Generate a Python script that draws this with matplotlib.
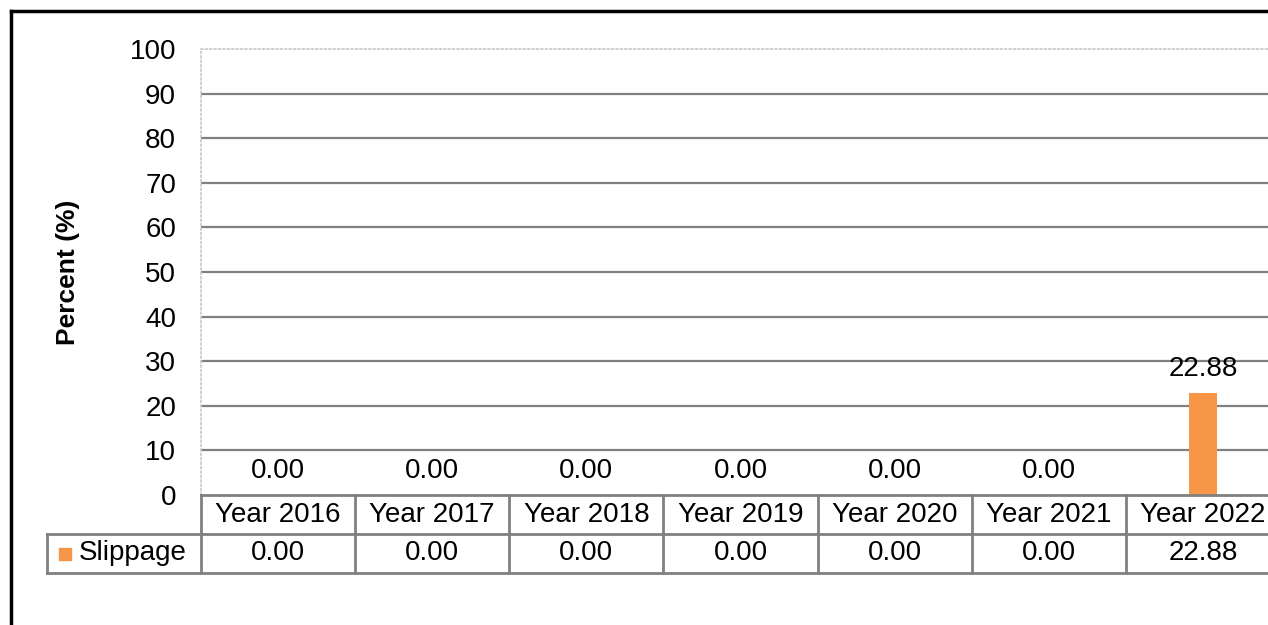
import matplotlib
matplotlib.use("Agg")
import matplotlib.pyplot as plt
from matplotlib.lines import Line2D
import numpy as np

# data
years = ["Year 2016", "Year 2017", "Year 2018", "Year 2019", "Year 2020", "Year 2021", "Year 2022"]
slippage = [0.00, 0.00, 0.00, 0.00, 0.00, 0.00, 22.88]
series_name = "Slippage"

orange = "#F79646"
grey = "#808080"
fs = 20
plt.rcParams["font.family"] = ["Liberation Sans", "DejaVu Sans"]

fig = plt.figure(figsize=(12.68, 6.25), dpi=100)
ax = fig.add_axes([201/1268, 130/625, 1079/1268, 446/625])

x = np.arange(len(years))
ax.bar(x, slippage, width=0.18, color=orange, zorder=3)

# data labels above each bar
for xi, v in zip(x, slippage):
    ax.annotate(f"{v:.2f}", (xi, v), xytext=(0, 17), textcoords="offset points",
                ha="center", va="center", fontsize=fs)

ax.set_xlim(-0.5, len(years) - 0.5)
ax.set_ylim(0, 100)
ax.set_yticks(range(0, 101, 10))
ax.set_xticks([])
ax.tick_params(axis="y", length=0, pad=18, labelsize=fs)
ax.yaxis.grid(True, color=grey, lw=1.6, zorder=0)
gl = ax.get_ygridlines()
gl[0].set_visible(False)
gl[-1].set_visible(False)

for s in ["right", "bottom"]:
    ax.spines[s].set_visible(False)
for s in ["left", "top"]:
    ax.spines[s].set_color("#c8c8c8")
    ax.spines[s].set_linestyle(":")
    ax.spines[s].set_linewidth(1.2)

ax.set_ylabel("Percent (%)", fontsize=19, fontweight="bold")
ax.yaxis.set_label_coords(-0.112, 0.5)

# data table under the plot
tr = ax.get_xaxis_transform()
rh = 39 / 446
lk = dict(color=grey, lw=2, transform=tr, clip_on=False, zorder=4)
ax.add_line(Line2D([-0.5, len(years) - 0.5], [0, 0], **lk))
ax.add_line(Line2D([-1.5, len(years) - 0.5], [-rh, -rh], **lk))
ax.add_line(Line2D([-1.5, len(years) - 0.5], [-2 * rh, -2 * rh], **lk))
ax.add_line(Line2D([-1.5, -1.5], [-rh, -2 * rh], **lk))
for i in range(len(years) + 1):
    ax.add_line(Line2D([i - 0.5, i - 0.5], [0, -2 * rh], **lk))

for xi, yr, v in zip(x, years, slippage):
    ax.text(xi, -rh / 2, yr, transform=tr, ha="center", va="center", fontsize=fs, clip_on=False)
    ax.text(xi, -1.5 * rh, f"{v:.2f}", transform=tr, ha="center", va="center", fontsize=fs, clip_on=False)

ax.plot([-1.38], [-1.5 * rh], marker="s", ms=8, color=orange, transform=tr, clip_on=False)
ax.text(-1.29, -1.5 * rh, series_name, transform=tr, ha="left", va="center", fontsize=fs, clip_on=False)

# outer chart border (left and top only visible)
fig.add_artist(Line2D([11/1268, 11/1268], [0, 1 - 11/625], color="black", lw=2.5))
fig.add_artist(Line2D([11/1268, 1], [1 - 11/625, 1 - 11/625], color="black", lw=2.5))

fig.savefig("out.png", dpi=100)
